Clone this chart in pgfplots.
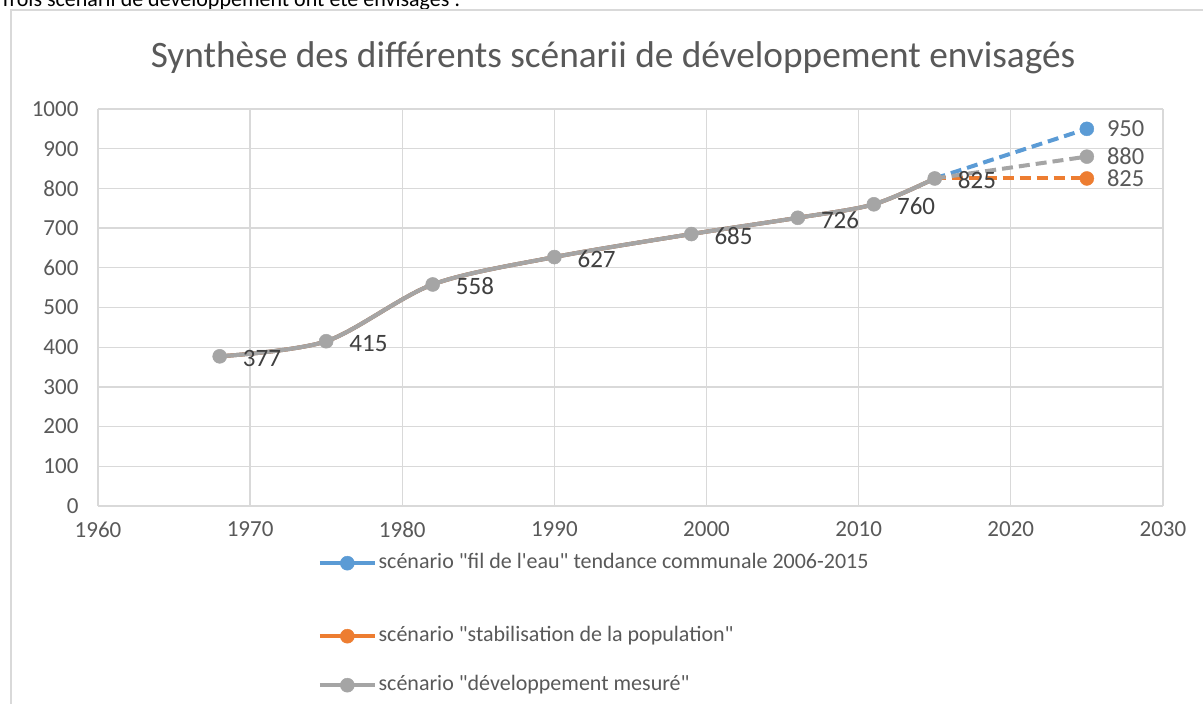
\documentclass[border=0pt]{standalone}
\usepackage{pgfplots}
\pgfplotsset{compat=1.18}
\usepackage{pgfplotstable}
\usepackage{fontspec}
\setmainfont{Carlito}
\newfontfamily\carl{Carlito}
\definecolor{cblue}{HTML}{5B9BD5}
\definecolor{corange}{HTML}{ED7D31}
\definecolor{cgray}{HTML}{A5A5A5}
\definecolor{gridc}{HTML}{D9D9D9}
\definecolor{txt}{HTML}{595959}
\definecolor{lab}{HTML}{404040}

\pgfplotstableread{
year pop
1968 377
1975 415
1982 558
1990 627
1999 685
2006 726
2011 760
2015 825
}\hist

\pgfplotstableread{
year pop
2015 825
2025 950
}\projblue
\pgfplotstableread{
year pop
2015 825
2025 825
}\projorange
\pgfplotstableread{
year pop
2015 825
2025 880
}\projgray

\begin{document}
\begin{tikzpicture}
\useasboundingbox (0pt,0pt) rectangle (1203pt,704pt);
\fill[white] (0pt,0pt) rectangle (1203pt,704pt);
\node[anchor=base west, inner sep=0pt, font=\carl\fontsize{22}{26}\selectfont] at (0pt,697pt) {Trois scénarii de développement ont été envisagés :};
\draw[gridc, line width=1.5pt] (11pt,0pt) -- (11pt,694pt) -- (1203pt,694pt);
\node[font=\fontsize{37.3}{44}\selectfont, text=txt] at (613pt,646pt) {Synthèse des différents scénarii de développement envisagés};
\begin{axis}[
  at={(98pt,198pt)}, anchor=south west,
  width=1065pt, height=397pt, scale only axis,
  xmin=1960, xmax=2030, ymin=0, ymax=1000,
  xtick={1960,1970,...,2030}, ytick={0,100,...,1000},
  grid=major, major grid style={gridc, line width=1.3pt},
  axis line style={draw=none}, tick style={draw=none},
  ticklabel style={font=\fontsize{23}{27}\selectfont, text=txt},
  yticklabel style={xshift=-16pt},
  xticklabel style={yshift=-12pt},
  /pgf/number format/assume math mode=true,
  /pgf/number format/1000 sep={},
  clip=false,
  legend style={at={(0.2065,-0.0516)}, anchor=north west, draw=none, fill=none,
    font=\carl\fontsize{22}{26}\selectfont, text=txt, row sep=24pt, inner sep=0pt,
    cells={anchor=west}, nodes={text height=16pt, text depth=5pt}},
  legend image code/.code={\draw[#1] plot coordinates {(0pt,0pt) (27.5pt,0pt) (55pt,0pt)};},
  legend cell align=left,
]
\addlegendimage{cblue, line width=3.5pt, mark=*, mark size=7pt, mark repeat=2, mark phase=2, mark options={line width=0.5pt}}
\addlegendentry[text height=40pt, text depth=29pt]{scénario "fil de l'eau" tendance communale 2006-2015}
\addlegendimage{corange, line width=3.5pt, mark=*, mark size=7pt, mark repeat=2, mark phase=2, mark options={line width=0.5pt}}
\addlegendentry{scénario "stabilisation de la population"}
\addlegendimage{cgray, line width=3.5pt, mark=*, mark size=7pt, mark repeat=2, mark phase=2, mark options={line width=0.5pt}}
\addlegendentry{scénario "développement mesuré"}

% historical (all three series overlap)
\addplot[cblue, line width=4pt, smooth, forget plot] table[x=year,y=pop] {\hist};
\addplot[corange, line width=4pt, smooth, forget plot] table[x=year,y=pop] {\hist};
% projections
\addplot[cblue, line width=4pt, dash pattern=on 11pt off 6pt, forget plot] table[x=year,y=pop] {\projblue};
\addplot[corange, line width=4pt, dash pattern=on 11pt off 6pt, forget plot] table[x=year,y=pop] {\projorange};
\addplot[cgray, line width=4pt, dash pattern=on 11pt off 6pt, forget plot] table[x=year,y=pop] {\projgray};
\addplot[cgray, line width=4pt, smooth, mark=*, mark size=7pt, mark options={line width=0.5pt}, forget plot,
  nodes near coords, nodes near coords style={anchor=west, inner sep=0pt, xshift=23pt, yshift=-2pt, font=\fontsize{25}{30}\selectfont, text=lab}]
  table[x=year,y=pop] {\hist};
% 2025 end points
\addplot[only marks, mark=*, mark size=7pt, cblue, forget plot, nodes near coords, nodes near coords style={anchor=west, inner sep=0pt, xshift=20pt, font=\fontsize{24.5}{29}\selectfont, text=txt}] coordinates {(2025,950)};
\addplot[only marks, mark=*, mark size=7pt, corange, forget plot, nodes near coords, nodes near coords style={anchor=west, inner sep=0pt, xshift=20pt, font=\fontsize{24.5}{29}\selectfont, text=txt}] coordinates {(2025,825)};
\addplot[only marks, mark=*, mark size=7pt, cgray, forget plot, nodes near coords, nodes near coords style={anchor=west, inner sep=0pt, xshift=20pt, font=\fontsize{24.5}{29}\selectfont, text=txt}] coordinates {(2025,880)};
\end{axis}
\end{tikzpicture}
\end{document}
